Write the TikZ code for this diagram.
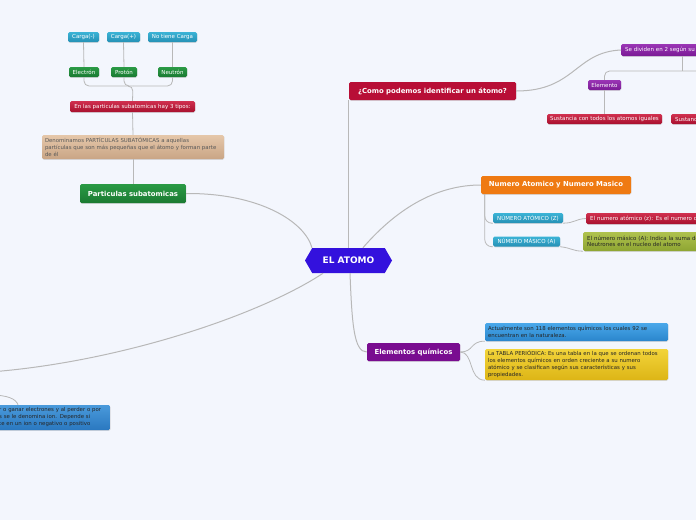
\documentclass[tikz,border=0pt]{standalone}
\usepackage{fontspec}
\setmainfont{DejaVu Sans}
\usetikzlibrary{shapes.symbols,shadows,calc}
\definecolor{bg}{HTML}{F3F6FD}
\definecolor{conncol}{HTML}{B8B8B8}
\definecolor{atomo}{HTML}{3311DD}
\definecolor{redA}{HTML}{B80E36}
\definecolor{redT}{HTML}{D0304F}
\definecolor{redB}{HTML}{A8102E}
\definecolor{grnT}{HTML}{2A9A45}
\definecolor{grnB}{HTML}{1A7A32}
\definecolor{bluT}{HTML}{3BB3D6}
\definecolor{bluB}{HTML}{2590B5}
\definecolor{purT}{HTML}{9A35B5}
\definecolor{purB}{HTML}{7A1A95}
\definecolor{purM}{HTML}{790C90}
\definecolor{tanT}{HTML}{E5C7AA}
\definecolor{tanB}{HTML}{C9A585}
\definecolor{orng}{HTML}{EF7A12}
\definecolor{actT}{HTML}{4AA8EA}
\definecolor{actB}{HTML}{2A85CC}
\definecolor{yelT}{HTML}{F2D43A}
\definecolor{yelB}{HTML}{DDB516}
\definecolor{olvT}{HTML}{AFC24E}
\definecolor{olvB}{HTML}{8EA532}
\definecolor{blT}{HTML}{4A9ADB}
\definecolor{blB}{HTML}{2A78C0}
\tikzset{
  conn/.style={draw=conncol, line width=1pt},
  thin conn/.style={draw=conncol, line width=0.8pt},
  bx/.style={rounded corners=1.5pt, inner sep=0pt, drop shadow={opacity=0.25, shadow xshift=0.4pt, shadow yshift=-0.8pt}},
  big/.style={bx, text=white, font=\fontsize{6.9}{8}\selectfont\bfseries},
  lbl/.style={bx, text=white, font=\fontsize{5.5}{6.5}\selectfont, minimum height=10pt},
  para/.style={bx, font=\fontsize{5.4}{7}\selectfont, align=left, inner xsep=4pt},
  redbox/.style={top color=redT, bottom color=redB},
  grnbox/.style={top color=grnT, bottom color=grnB},
  blubox/.style={top color=bluT, bottom color=bluB},
  purbox/.style={top color=purT, bottom color=purB},
}
\begin{document}
\begin{tikzpicture}[x=1pt,y=-1pt]
\fill[bg] (0,0) rectangle (696,520);
\useasboundingbox (0,0) rectangle (696,520);
\clip (0,0) rectangle (696,520);

% ---------- nodes ----------
\node[signal, signal to=west and east, signal pointer angle=120, fill=atomo, text=white,
      minimum width=87pt, minimum height=25pt, inner sep=0pt,
      font=\fontsize{9}{10}\selectfont\bfseries] (center) at (348.5,260.5) {EL ATOMO};

% subatomic branch
\node[lbl, blubox, minimum width=31pt] (cm) at (83.5,37) {Carga(-)};
\node[lbl, blubox, minimum width=33pt] (cp) at (123.5,37) {Carga(+)};
\node[lbl, blubox, minimum width=49pt] (nc) at (172.5,37) {No tiene Carga};
\node[lbl, grnbox, minimum width=30pt] (el) at (84,72) {Electrón};
\node[lbl, grnbox, minimum width=26pt] (pr) at (124,72) {Protón};
\node[lbl, grnbox, minimum width=29pt] (ne) at (172.5,72) {Neutrón};
\node[lbl, redbox, minimum width=125pt, minimum height=11pt] (tipos) at (132.5,106.5) {En las particulas subatomicas hay 3 tipos:};
\node[para, top color=tanT, bottom color=tanB, text=black!65, text width=176pt, inner xsep=3pt, minimum height=24pt] (denom) at (133,147)
  {Denominamos PARTÍCULAS SUBATÓMICAS a aquellas\\partículas que son más pequeñas que el átomo y forman parte\\de él};
\node[big, grnbox, minimum width=106pt, minimum height=19pt] (part) at (133,193.5) {Particulas subatomicas};

% como podemos branch
\node[big, fill=redA, minimum width=167pt, minimum height=18pt] (como) at (432.5,91) {¿Como podemos identificar un átomo?};
\node[lbl, purbox, minimum width=120pt, minimum height=12pt, anchor=west, align=left, text width=112pt, inner xsep=4pt] (sediv) at (621,50) {Se dividen en 2 según su};
\node[lbl, purbox, minimum width=33pt] (elem) at (604.5,85) {Elemento};
\node[lbl, redbox, minimum width=115pt] (sust1) at (604.5,119) {Sustancia con todos los atomos iguales};
\node[lbl, redbox, minimum width=60pt, anchor=west, align=left, text width=52pt, inner xsep=4pt] (sust2) at (671,119) {Sustancia};

% numero atomico branch
\node[big, fill=orng, minimum width=150pt, minimum height=18pt] (nam) at (556,185) {Numero Atomico y Numero Masico};
\node[lbl, blubox, minimum width=70pt] (natom) at (528,218) {NÚMERO ATÓMICO (Z)};
\node[lbl, blubox, minimum width=67pt] (nmas) at (526.5,241.5) {NÚMERO MÁSICO (A)};
\node[lbl, redbox, minimum width=170pt, minimum height=11pt, anchor=west, align=left, text width=162pt, inner xsep=4pt] (elnum) at (586,218.5) {El numero atómico (z): Es el numero de};
\node[para, top color=olvT, bottom color=olvB, text=black!85, text width=170pt, minimum height=19pt, anchor=west, font=\fontsize{5.5}{6.5}\selectfont] (elmas) at (583,241.5) {El número másico (A): Indica la suma de\\Neutrones en el nucleo del atomo};

% elementos quimicos branch
\node[big, fill=purM, minimum width=93pt, minimum height=18pt] (eq) at (413.5,352) {Elementos químicos};
\node[para, top color=actT, bottom color=actB, text=black!85, text width=177pt, inner xsep=3pt, minimum height=18pt] (act) at (576.5,332)
  {Actualmente son 118 elementos químicos los cuales 92 se\\encuentran en la naturaleza.};
\node[para, top color=yelT, bottom color=yelB, text=black!85, text width=177pt, inner xsep=3pt, minimum height=31pt] (tabla) at (576.5,364.5)
  {La TABLA PERIÓDICA: Es una tabla en la que se ordenan todos\\los elementos químicos en orden creciente a su numero\\atómico y se clasifican según sus características y sus\\propiedades.};

% bottom-left
\node[para, top color=blT, bottom color=blB, text=black!85, text width=108pt, inner xsep=3pt, minimum height=25pt, anchor=west] (bl) at (-4,417.5)
  {r o ganar electrones y al perder o por\\s se le denomina ion. Depende si\\te en un ion o negativo o positivo};

% ---------- coordinates ----------
\coordinate (bus) at (133,86);
\coordinate (sdb) at (682,71);
\coordinate (offr) at (720,71);
\coordinate (offl) at (-10,372);
\coordinate (offl2) at (-10,395);

% ---------- connectors ----------
\draw[thin conn] (cm.south) -- (el.north);
\draw[thin conn] (cp.south) -- (pr.north);
\draw[thin conn] (nc.south) -- (ne.north);
\draw[thin conn, rounded corners=5pt] (el.south) |- (bus) -- (tipos.north);
\draw[thin conn, rounded corners=5pt] (pr.south) |- (bus);
\draw[thin conn, rounded corners=5pt] (ne.south) |- (bus);
\draw[thin conn] (tipos.south) -- (denom.north);
\draw[thin conn] (denom.south) -- (part.north);
\draw[conn] (part.east) .. controls (260,193) and (305,222) .. (center.north west);

\draw[conn] (como.south west) -- (como.south west |- center.north);
\draw[conn] (como.east) .. controls (575,91) and (575,52) .. (sediv.west);
\draw[thin conn] (sediv.south west -| sdb) -- (sdb);
\draw[thin conn, rounded corners=5pt] (elem.north) |- (sdb) -- (offr);
\draw[thin conn] (elem.south) -- (sust1.north);

\draw[conn] ($(center.north east)+(-22,0)$) .. controls (400,205) and (440,185) .. (nam.west);
\draw[thin conn, rounded corners=7pt] ($(nam.south west)+(4,0)$) |- (natom.south west);
\draw[thin conn, rounded corners=7pt] ($(nam.south west)+(4,0)$) |- (nmas.south west);
\draw[thin conn] (natom.south east) .. controls (575,223) and (575,219) .. (elnum.west);
\draw[thin conn] (nmas.south east) .. controls (572,248) and (572,251) .. (elmas.south west);

\draw[conn] ($(center.south)+(1.5,0)$) .. controls (352,325) and (354,352) .. (eq.west);
\draw[thin conn] (eq.east) .. controls (474,352) and (470,341) .. (act.south west);
\draw[thin conn] (eq.east) .. controls (474,352) and (468,380) .. (tabla.south west);

\draw[conn] ($(center.south west)+(11,0)$) .. controls (260,315) and (120,362) .. (offl);
\draw[thin conn] (offl2) .. controls (8,395) and (16,399) .. (bl.north west -| 18,0);
\end{tikzpicture}
\end{document}
